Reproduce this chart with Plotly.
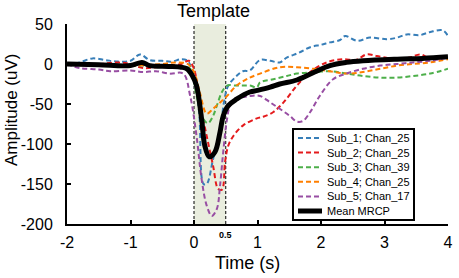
import plotly.graph_objects as go

# ---- data ----
t_sub1 = [-2, -1.8, -1.6, -1.4, -1.2, -1.0, -0.85, -0.7, -0.5, -0.35, -0.2, -0.1, -0.01, 0.08, 0.15, 0.2, 0.3, 0.41, 0.49, 0.54, 0.67, 0.77, 0.88, 1.04, 1.2, 1.35, 1.46, 1.65, 1.83, 2.0, 2.14, 2.3, 2.38, 2.57, 2.77, 3.04, 3.2, 3.35, 3.55, 3.72, 3.92, 4.0]
v_sub1 = [0, 2, 7, 5, 3, 4, 12, 5, 4, 3, 6, 4, -15, -60, -150, -150, -119, -81, -40, -27, -15, -9, -8, 5, 4, 2, 8, 14, 21, 24, 27, 30, 35, 29, 33, 31, 33, 37, 36, 40, 42, 35]

t_sub2 = [-2, -1.6, -1.2, -1.0, -0.8, -0.5, -0.2, -0.08, 0.0, 0.09, 0.2, 0.3, 0.38, 0.44, 0.49, 0.54, 0.62, 0.77, 0.99, 1.09, 1.25, 1.41, 1.62, 1.83, 2.09, 2.35, 2.55, 2.72, 2.88, 3.2, 3.4, 3.56, 3.72, 3.98]
v_sub2 = [0, -1, 2, 0, -5, -3, 0, 4, -6, -48, -90, -127, -156, -157, -122, -102, -90, -77, -68, -66, -60, -48, -27, -10, 2, 6, 5, 12, 10, 6, 8, 12, 7, 8]

t_sub3 = [-2, -1.5, -1.0, -0.5, -0.2, -0.06, 0.04, 0.15, 0.22, 0.3, 0.36, 0.44, 0.52, 0.67, 0.77, 0.88, 0.99, 1.04, 1.25, 1.46, 1.62, 1.94, 2.14, 2.4, 2.66, 2.93, 3.2, 3.45, 3.72, 4.0]
v_sub3 = [0, -1, -2, -2, -3, -6, -40, -69, -74, -65, -52, -35, -27, -27, -27, -27, -29, -23, -19, -15, -12, -10, -9, -12, -15, -17, -17, -15, -12, -6]

t_sub4 = [-2, -1.5, -1.0, -0.5, -0.3, -0.1, 0.0, 0.09, 0.2, 0.3, 0.41, 0.52, 0.67, 0.83, 1.04, 1.35, 1.62, 1.88, 2.14, 2.4, 2.66, 2.93, 3.2, 3.45, 3.72, 4.0]
v_sub4 = [0, -1, -2, 0, 2, 0, -10, -35, -62, -56, -48, -40, -27, -19, -12, -4, -4, -6, -9, -12, -10, -6, -2, 0, 2, 6]

t_sub5 = [-2, -1.8, -1.5, -1.32, -1.0, -0.8, -0.6, -0.38, -0.17, -0.06, 0.04, 0.12, 0.2, 0.28, 0.36, 0.41, 0.46, 0.52, 0.57, 0.67, 0.88, 1.04, 1.2, 1.35, 1.51, 1.62, 1.72, 1.83, 1.98, 2.19, 2.4, 2.66, 2.93, 3.2, 3.45, 3.72, 4.0]
v_sub5 = [0, -5, -7, -9, -8, -10, -9, -12, -12, -40, -90, -144, -177, -190, -181, -152, -110, -69, -52, -44, -40, -40, -48, -56, -65, -72, -71, -60, -40, -19, -12, -6, -2, 0, 2, 4, 8]

t_mean = [-2, -1.5, -1.0, -0.82, -0.7, -0.4, -0.2, -0.11, -0.03, 0.04, 0.12, 0.17, 0.24, 0.33, 0.41, 0.46, 0.54, 0.67, 0.88, 1.0, 1.2, 1.35, 1.62, 1.9, 2.14, 2.4, 2.66, 3.2, 3.6, 4.0]
v_mean = [0, -1, -2, 2, -2, -3, -4, -6, -14, -27, -69, -102, -116, -110, -85, -65, -52, -44, -35, -33, -29, -25, -20, -10, -2, 2, 4, 6, 7, 9]

series_names = ["Sub_1; Chan_25", "Sub_2; Chan_25", "Sub_3; Chan_39", "Sub_4; Chan_25", "Sub_5; Chan_17"]
series_colors = ["#377eb8", "#e41a1c", "#4daf4a", "#ff7f00", "#984ea3"]
mean_name = "Mean MRCP"

x_ticks = [-2, -1, 0, 1, 2, 3, 4]
y_ticks = [50, 0, -50, -100, -150, -200]
template_window = [0, 0.5]

FONT = "Liberation Sans, Arial, sans-serif"
SUB_DASH = "5px,3px"

fig = go.Figure()

# template window shading
fig.add_shape(type="rect", xref="x", yref="y", x0=template_window[0], x1=template_window[1],
              y0=-200, y1=50, fillcolor="#e9edde", line_width=0, layer="below")
for xv in template_window:
    fig.add_shape(type="line", xref="x", yref="y", x0=xv, x1=xv, y0=-200, y1=50,
                  line=dict(color="black", width=1, dash="3px,2px"), layer="below")

subs = [(t_sub1, v_sub1), (t_sub2, v_sub2), (t_sub3, v_sub3), (t_sub4, v_sub4), (t_sub5, v_sub5)]
for (tt, vv), name, col in zip(subs, series_names, series_colors):
    fig.add_trace(go.Scatter(x=tt, y=vv, mode="lines", name=name, line_shape="spline",
                             line=dict(color=col, width=2, dash=SUB_DASH)))

fig.add_trace(go.Scatter(x=t_mean, y=v_mean, mode="lines", name=mean_name, line_shape="spline",
                         line=dict(color="black", width=5)))

# ---- hand-built compact legend (paper coordinates) ----
PW, PH = 381.0, 200.0  # plot area size in px
def px_x(p): return p / PW
def px_y(p): return p / PH
box_l, box_r, box_t, box_b = 226, 347, 95, 4   # px from plot left / plot bottom
fig.add_shape(type="rect", xref="paper", yref="paper",
              x0=px_x(box_l), x1=px_x(box_r), y0=px_y(box_b), y1=px_y(box_t),
              fillcolor="white", line=dict(color="black", width=2), layer="above")
legend_entries = list(zip(series_names, series_colors, [SUB_DASH] * 5, [2] * 5)) + \
                 [(mean_name, "black", "solid", 5)]
row0, row_step = 86, 14.6
for i, (name, col, dash, w) in enumerate(legend_entries):
    yc = row0 - i * row_step
    fig.add_shape(type="line", xref="paper", yref="paper",
                  x0=px_x(231), x1=px_x(255), y0=px_y(yc), y1=px_y(yc),
                  line=dict(color=col, width=w, dash=dash), layer="above")
    fig.add_annotation(xref="paper", yref="paper", x=px_x(258), y=px_y(yc), text=name,
                       showarrow=False, xanchor="left", yanchor="middle",
                       font=dict(size=11, family=FONT, color="black"))

fig.update_layout(
    width=459, height=278,
    margin=dict(l=67, r=11, t=24, b=54),
    paper_bgcolor="white", plot_bgcolor="white",
    font=dict(family=FONT, color="black", size=16),
    showlegend=False,
    xaxis=dict(range=[-2, 4], tickvals=x_ticks, ticktext=[str(v) for v in x_ticks],
               showgrid=False, zeroline=False, showline=True, linecolor="black", linewidth=2,
               ticks="inside", ticklen=4, tickwidth=2, tickcolor="black", automargin=False,
               tickfont=dict(size=16), ticklabelstandoff=3, ticklabeloverflow="allow"),
    yaxis=dict(range=[-200, 50], tickvals=y_ticks, ticktext=[str(v) for v in y_ticks],
               showgrid=False, zeroline=False, showline=True, linecolor="black", linewidth=2,
               ticks="inside", ticklen=4, tickwidth=2, tickcolor="black", automargin=False,
               tickfont=dict(size=16), ticklabelstandoff=9, ticklabeloverflow="allow"),
)

# axis titles and extra labels
fig.add_annotation(xref="paper", yref="paper", x=px_x(247.5 - 67), y=px_y(224 - 263),
                   text="Time (s)", showarrow=False, xanchor="center", yanchor="middle",
                   font=dict(size=18, family=FONT))
fig.add_annotation(xref="paper", yref="paper", x=px_x(11.5 - 67), y=px_y(224 - 110.5),
                   text="Amplitude (uV)", textangle=-90, showarrow=False,
                   xanchor="center", yanchor="middle", font=dict(size=17, family=FONT))
fig.add_annotation(xref="paper", yref="paper", x=px_x(213.5 - 67), y=px_y(224 - 11),
                   text="Template", showarrow=False, xanchor="center", yanchor="middle",
                   font=dict(size=18, family=FONT))
fig.add_annotation(x=template_window[1], xref="x", yref="paper", y=px_y(224 - 235),
                   text="<b>0.5</b>", showarrow=False, xanchor="center", yanchor="middle",
                   font=dict(size=9, family=FONT))

# remove the default page margin so the figure fills the browser window exactly
fig.write_html("out.html", config={"displayModeBar": False},
               post_script="document.body.style.margin='0';document.body.style.overflow='hidden';")
